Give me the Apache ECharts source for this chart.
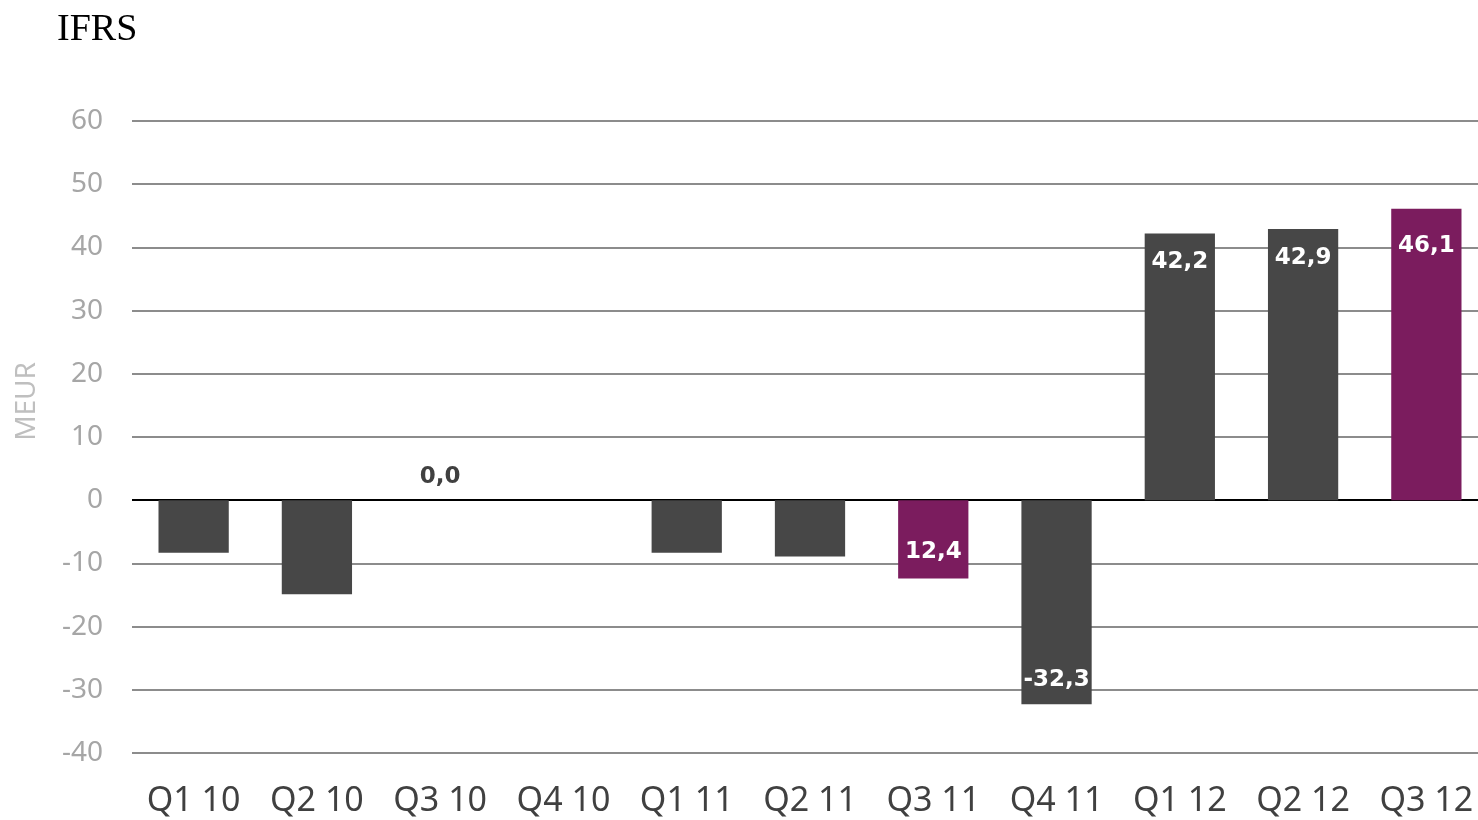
<!DOCTYPE html>
<html>
<head>
<meta charset="utf-8">
<script src="https://cdn.jsdelivr.net/npm/echarts@6/dist/echarts.min.js"></script>
<style>
html,body{margin:0;padding:0;background:#fff;overflow:hidden;width:1478px;height:820px;}
#chart{width:1488px;height:820px;}
</style>
</head>
<body>
<div id="chart"></div>
<script>
const categories = ['Q1 10','Q2 10','Q3 10','Q4 10','Q1 11','Q2 11','Q3 11','Q4 11','Q1 12','Q2 12','Q3 12'];
const values = [-8.3, -14.9, 0, null, -8.3, -8.9, -12.4, -32.3, 42.2, 42.9, 46.1];
const valueLabels = ['', '', '0,0', '', '', '', '12,4', '-32,3', '42,2', '42,9', '46,1'];
const highlighted = ['Q3 11', 'Q3 12'];
const yTicks = [-40, -30, -20, -10, 0, 10, 20, 30, 40, 50, 60];

const DARK = '#474747';
const PURPLE = '#7b1c5e';

const data = values.map((v, i) => {
  const isHi = highlighted.indexOf(categories[i]) >= 0;
  const item = { value: v, itemStyle: { color: isHi ? PURPLE : DARK } };
  const txt = valueLabels[i];
  if (txt) {
    let label;
    if (v === 0) {
      label = { show: true, position: 'top', distance: 12, color: '#404040' };
    } else if (v < 0) {
      label = { show: true, position: 'insideBottom', distance: v < -20 ? 13 : 15, color: '#ffffff' };
    } else {
      label = { show: true, position: 'insideTop', distance: categories[i] === 'Q3 12' ? 26 : 17, color: '#ffffff' };
    }
    label.formatter = () => txt;
    item.label = label;
  }
  return item;
});

const splitColors = yTicks.map(t => t === 0 ? '#000000' : '#8c8c8c');

const chart = echarts.init(document.getElementById('chart'));
chart.setOption({
  animation: false,
  title: {
    text: 'IFRS',
    left: 52,
    top: 6,
    textStyle: { fontFamily: '"Liberation Serif", "DejaVu Serif", serif', fontSize: 38, fontWeight: 'normal', color: '#000' }
  },
  graphic: [{
    type: 'text',
    left: 13,
    top: 362,
    rotation: Math.PI / 2,
    style: { text: 'MEUR', fontFamily: '"Noto Sans", sans-serif', fontSize: 28, fill: '#bfbfbf' }
  }],
  grid: { left: 132, right: 0, top: 121, bottom: 67, containLabel: false },
  xAxis: {
    type: 'category',
    data: categories,
    axisLine: { show: false },
    axisTick: { show: false },
    axisLabel: { color: '#404040', fontFamily: '"Noto Sans", sans-serif', fontSize: 34, margin: 31, interval: 0 },
    splitLine: { show: false }
  },
  yAxis: {
    type: 'value',
    min: -40,
    max: 60,
    interval: 10,
    axisLine: { show: false },
    axisTick: { show: false },
    axisLabel: { color: '#a6a6a6', fontFamily: '"Noto Sans", sans-serif', fontSize: 28, margin: 29 },
    splitLine: { show: true, lineStyle: { color: splitColors, width: 2 } }
  },
  series: [{
    type: 'bar',
    data: data,
    barWidth: '57%',
    label: { fontFamily: '"DejaVu Sans", sans-serif', fontWeight: 'bold', fontSize: 23 },
    z: 1
  }]
});
</script>
</body>
</html>
